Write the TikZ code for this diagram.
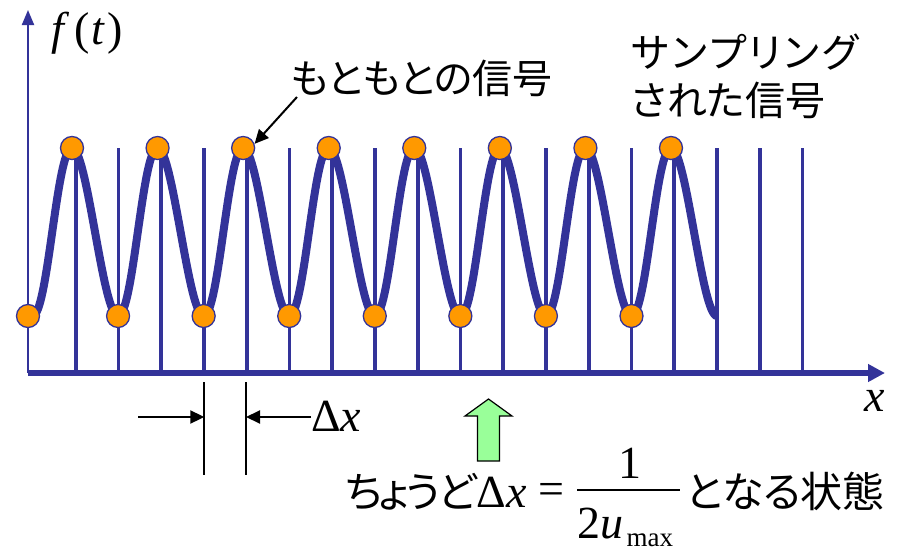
\documentclass[tikz,border=0pt]{standalone}
\usepackage{fontspec}
\setmainfont{Liberation Serif}
\newfontfamily\jp[RawFeature=+palt]{Noto Sans CJK JP}
\usetikzlibrary{arrows.meta}
\definecolor{navy}{HTML}{333399}
\definecolor{dotor}{HTML}{FF9900}
\definecolor{lgreen}{HTML}{99FF99}
\tikzset{
  sline/.style={navy, line width=3.8pt},
  curve/.style={navy, line width=8pt},
  sdot/.style={circle, fill=dotor, draw=navy, line width=1.3pt, minimum size=23pt, inner sep=0pt},
  yax/.style={navy, line width=2pt, -{Triangle[length=15pt,width=12pt]}},
  xax/.style={navy, line width=6pt, -{Triangle[length=17pt,width=17pt]}},
  blk/.style={black, line width=2pt, -{Triangle[length=14pt,width=13pt]}},
  dim/.style={black, line width=2pt},
  garrow/.style={fill=lgreen, draw=black, line width=1.2pt, line join=miter},
  jplab/.style={inner sep=0pt, font=\jp\fontsize{40}{44}\selectfont},
  jpfor/.style={inner sep=0pt, font=\jp\fontsize{42}{46}\selectfont},
  mth/.style={inner sep=0pt, font=\fontsize{46}{50}\selectfont},
  msub/.style={inner sep=0pt, font=\fontsize{27}{29}\selectfont}
}
\begin{document}
\begin{tikzpicture}[x=1pt,y=-1pt]
\useasboundingbox (0,0) rectangle (898,552);
% sampling lines
\foreach \k in {1,...,18} {
  \coordinate (st\k) at ({33+42.75*\k},148);
  \coordinate (sb\k) at ({33+42.75*\k},373);
  \draw[sline] (st\k) -- (sb\k);
}
% axes
\coordinate (O) at (28,373);
\coordinate (ytip) at (28,10);
\coordinate (xtip) at (885,373);
\draw[yax] (O) -- (ytip);
\draw[xax] (O) -- (xtip);
% original signal
\draw[curve] plot[domain=0:16*pi, samples=500, variable=\t]
  ({32.5 + 85.57*\t/(2*pi) - 3.3*(1-cos(\t r))/2}, {232 + 84*cos(\t r)});
% sample dots
\node[sdot] (m0) at (28,316) {};
\foreach \j in {1,...,7} \node[sdot] (m\j) at ({32.5+85.57*\j},316) {};
\foreach \j in {0,...,7} \node[sdot] (p\j) at ({72+85.57*\j},148) {};
% labels
\node[mth, anchor=base west] (ft) at (51,44) {\textit{f}\kern5pt(\kern1.5pt\textit{t}\kern2.5pt)};
\node[mth, anchor=base west] (xl) at (864,411) {\textit{x}};
\node[jplab, anchor=base west] (orig) at (290,93) {もともとの信号};
\node[jplab, anchor=base west] (samp1) at (631,67) {サ\kern2.5ptン\kern2.5ptプ\kern2.5ptリ\kern2.5ptン\kern2.5ptグ};
\node[jplab, anchor=base west] (samp2) at (631,115) {された信号};
\coordinate (astart) at (297,97);
\draw[blk] (astart) -- (p2.20);
% delta x dimension
\coordinate (d1t) at (204.3,382);
\coordinate (d1b) at (204.3,475);
\coordinate (d2t) at (246,382);
\coordinate (d2b) at (246,475);
\draw[dim] (d1t) -- (d1b);
\draw[dim] (d2t) -- (d2b);
\coordinate (la) at (138,417);
\coordinate (lae) at (204.3,417);
\coordinate (rae) at (246,417);
\node[mth, anchor=base west] (dxl) at (311,431) {Δ\textit{x}};
\draw[blk] (la) -- (lae);
\draw[blk] (dxl.west |- rae) -- (rae);
% green arrow
\draw[garrow] (477.5,461) -- (477.5,416) -- (465,416) -- (488.5,399) -- (512,416) -- (499.5,416) -- (499.5,461) -- cycle;
% formula
\node[jpfor, anchor=base west] (chou) at (345,507) {ち\kern-3ptょ\kern-3ptう\kern-3ptど};
\node[mth, anchor=base west] (fdx) at (chou.base east) {Δ\textit{x}};
\node[mth, anchor=base west] (feq) at (538,504) {=};
\node[mth, anchor=base] (fone) at (630,478) {1};
\coordinate (bl) at (577,490);
\coordinate (br) at (680,490);
\draw[black, line width=2pt] (bl) -- (br);
\node[mth, anchor=base west] (ftwo) at (577,538) {2\textit{u}};
\node[msub, anchor=base west] (fmax) at ([xshift=3pt,yshift=-8pt]ftwo.base east) {max};
\node[jpfor, anchor=base west] (fend) at (686,507) {となる状態};
\end{tikzpicture}
\end{document}
